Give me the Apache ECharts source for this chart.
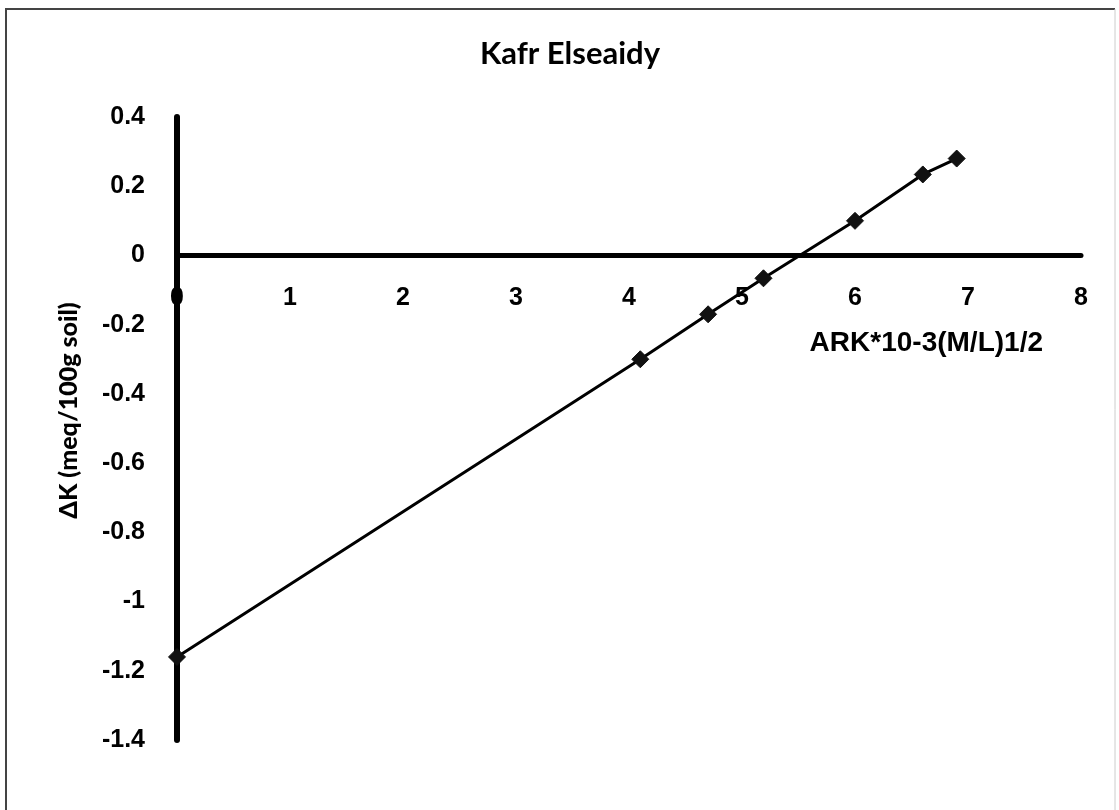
<!DOCTYPE html>
<html>
<head>
<meta charset="utf-8">
<title>Kafr Elseaidy</title>
<script src="https://cdn.jsdelivr.net/npm/echarts@6/dist/echarts.min.js"></script>
<style>
  html, body { margin: 0; padding: 0; background: #fff; }
  #chart { width: 1119px; height: 810px; }
</style>
</head>
<body>
<div id="chart"></div>
<script>
// values
const arkValues = [0, 4.1, 4.7, 5.19, 6.0, 6.6, 6.9];
const deltaK = [-1.16, -0.30, -0.17, -0.066, 0.10, 0.234, 0.28];

const xTicks = [0, 1, 2, 3, 4, 5, 6, 7, 8];
const yTicks = [-1.4, -1.2, -1, -0.8, -0.6, -0.4, -0.2, 0, 0.2, 0.4];

const tickFont = {
  color: '#000',
  fontFamily: 'Liberation Sans',
  fontWeight: 'bold',
  fontSize: 25
};

const gridTop = 117;
const gridBottom = 70;
const plotH = 810 - gridTop - gridBottom;
const yMin = yTicks[0];
const yMax = yTicks[yTicks.length - 1];
// the x axis sits on y = 0, labels included, so shift it up from the bottom
const zeroOffset = -plotH * (0 - yMin) / (yMax - yMin);

const chart = echarts.init(document.getElementById('chart'));

chart.setOption({
  animation: false,
  backgroundColor: '#fff',
  title: {
    text: 'Kafr Elseaidy',
    left: 565,
    top: 33,
    textAlign: 'center',
    textStyle: {
      color: '#000',
      fontFamily: 'Lato',
      fontWeight: 'bold',
      fontSize: 31
    }
  },
  graphic: [
    {
      type: 'polyline',
      shape: { points: [[6, 810], [6, 9], [1115, 9]] },
      style: { stroke: '#444', lineWidth: 2, fill: null }
    },
    {
      type: 'line',
      shape: { x1: 1115, y1: 9, x2: 1115, y2: 810 },
      style: { stroke: '#ccc', lineWidth: 1 }
    }
  ],
  grid: { left: 177, right: 38, top: gridTop, bottom: gridBottom },
  xAxis: {
    type: 'value',
    min: xTicks[0],
    max: xTicks[xTicks.length - 1],
    interval: 1,
    offset: zeroOffset,
    name: 'ARK*10-3(M/L)1/2',
    nameLocation: 'end',
    nameGap: -38,
    nameTextStyle: {
      color: '#000',
      fontFamily: 'Liberation Sans',
      fontWeight: 'bold',
      fontSize: 28,
      align: 'right',
      verticalAlign: 'top',
      padding: [74, 0, 0, 0]
    },
    axisLine: { onZero: false, lineStyle: { color: '#000', width: 5 } },
    axisTick: { show: false },
    axisLabel: Object.assign({ margin: 30 }, tickFont),
    splitLine: { show: false }
  },
  yAxis: {
    type: 'value',
    min: yMin,
    max: yMax,
    interval: 0.2,
    name: 'ΔK (meq/100g soil)',
    nameLocation: 'middle',
    nameGap: 80,
    nameTextStyle: {
      color: '#000',
      fontFamily: 'Lato',
      fontWeight: 900,
      fontSize: 25,
      padding: [0, 0, 16, 36]
    },
    axisLine: { show: true, onZero: false, lineStyle: { color: '#000', width: 6 } },
    axisTick: { show: false },
    axisLabel: Object.assign({
      margin: 32,
      formatter: v => String(Math.round(v * 10) / 10)
    }, tickFont),
    splitLine: { show: false }
  },
  series: [
    {
      type: 'line',
      data: arkValues.map((x, i) => [x, deltaK[i]]),
      symbol: 'diamond',
      symbolSize: 17,
      lineStyle: { color: '#000', width: 3 },
      itemStyle: { color: '#111', borderColor: '#111' },
      z: 3
    }
  ]
});
</script>
</body>
</html>
